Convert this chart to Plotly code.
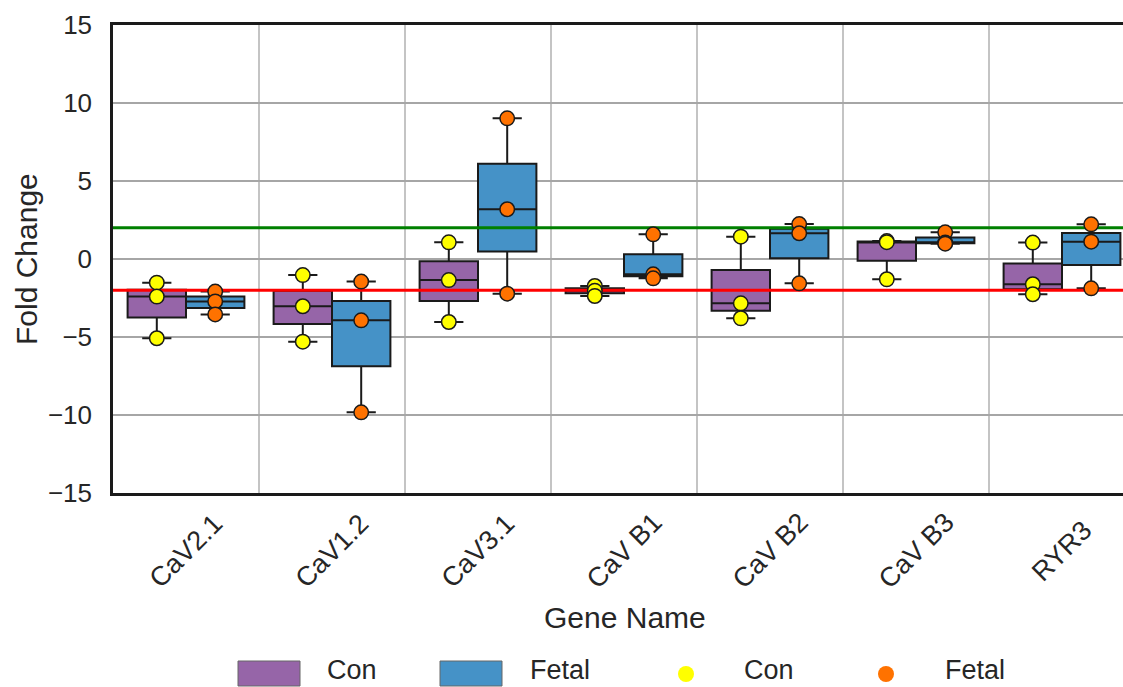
import plotly.graph_objects as go

# ---- data ----
genes = ["CaV2.1", "CaV1.2", "CaV3.1", "CaV B1", "CaV B2", "CaV B3", "RYR3"]
con_values = [
    [-1.52, -2.41, -5.08],
    [-1.03, -3.03, -5.30],
    [1.07, -1.35, -4.04],
    [-1.73, -2.03, -2.37],
    [1.43, -2.84, -3.80],
    [1.15, 1.08, -1.30],
    [1.05, -1.62, -2.26],
]
fetal_values = [
    [-2.09, -2.72, -3.55],
    [-1.45, -3.93, -9.83],
    [9.02, 3.19, -2.22],
    [1.58, -0.98, -1.24],
    [2.24, 1.65, -1.56],
    [1.71, 1.05, 0.98],
    [2.22, 1.11, -1.88],
]
upper_threshold = 2
lower_threshold = -2
y_ticks = [-15, -10, -5, 0, 5, 10, 15]

# ---- style ----
PURPLE = "#9665a8"
BLUE = "#4592c7"
YELLOW = "#ffff00"
ORANGE = "#ff7200"
FONT = "Liberation Sans, Arial, sans-serif"
W, H = 1123, 687
L, R, T, B = 113, 0, 25, 194
PW, PH = W - L - R, H - T - B
CAT_PX = 146.0
OFF = 0.2

def px_x(px):
    return (px - L) / PW

def px_y(py):
    return (H - B - py) / PH

fig = go.Figure()

for name, vals, color, off in [("Con", con_values, PURPLE, -OFF), ("Fetal", fetal_values, BLUE, OFF)]:
    xs, ys = [], []
    for i, v in enumerate(vals):
        xs += [i + off] * len(v)
        ys += v
    fig.add_trace(go.Box(
        x=xs, y=ys, name=name, width=0.4, boxpoints=False,
        quartilemethod="inclusive", fillcolor=color,
        line=dict(color="#1a1a1a", width=2), whiskerwidth=0.5,
        showlegend=False, hoverinfo="skip",
    ))

# threshold lines (drawn above boxes, below points)
xr = [-0.5, 6.5]
fig.add_trace(go.Scatter(x=xr, y=[upper_threshold] * 2, mode="lines",
                         line=dict(color="#008000", width=3), showlegend=False, hoverinfo="skip"))
fig.add_trace(go.Scatter(x=xr, y=[lower_threshold] * 2, mode="lines",
                         line=dict(color="#ff0000", width=3), showlegend=False, hoverinfo="skip"))

for name, vals, color, off in [("Con", con_values, YELLOW, -OFF), ("Fetal", fetal_values, ORANGE, OFF)]:
    xs, ys = [], []
    for i, v in enumerate(vals):
        xs += [i + off] * len(v)
        ys += v
    fig.add_trace(go.Scatter(
        x=xs, y=ys, mode="markers", name=name,
        marker=dict(color=color, size=14.5, line=dict(color="#1a1a1a", width=1.5)),
        showlegend=False,
    ))

x_max = -0.5 + PW / CAT_PX

fig.update_layout(
    width=W, height=H,
    margin=dict(l=L, r=R, t=T, b=B),
    plot_bgcolor="white", paper_bgcolor="white",
    font=dict(family=FONT, color="#262626"),
    xaxis=dict(
        range=[-0.5, x_max], showticklabels=False, showgrid=False, zeroline=False,
        showline=True, linecolor="#1a1a1a", linewidth=2.5, mirror=True,
        minor=dict(tickvals=[i + 0.5 for i in range(len(genes) - 1)], showgrid=True,
                   gridcolor="#c4c4c4", gridwidth=1.5, ticks=""),
    ),
    yaxis=dict(
        range=[-15, 15], tickvals=y_ticks, showgrid=True, gridcolor="#a6a6a6", gridwidth=2,
        zeroline=False, showline=True, linecolor="#1a1a1a", linewidth=2.5,
        tickfont=dict(size=26, color="#262626"), ticklabelstandoff=13,
    ),
)

annotations = []
for i, g in enumerate(genes):
    annotations.append(dict(
        x=i, xref="x", y=px_y(551), yref="paper", text=g, showarrow=False,
        textangle=-45, xanchor="center", yanchor="middle",
        font=dict(size=27, family=FONT, color="#262626"),
    ))
annotations.append(dict(x=px_x(625), y=px_y(617), xref="paper", yref="paper", text="Gene Name",
                        showarrow=False, xanchor="center", yanchor="middle",
                        font=dict(size=30, family=FONT, color="#262626")))
annotations.append(dict(x=px_x(26), y=px_y(259), xref="paper", yref="paper", text="Fold Change",
                        showarrow=False, textangle=-90, xanchor="center", yanchor="middle",
                        font=dict(size=30, family=FONT, color="#262626")))

# custom legend
shapes = []
legend_items = [
    ("rect", PURPLE, 238, "Con", 325),
    ("rect", BLUE, 440, "Fetal", 528),
    ("dot", YELLOW, 686, "Con", 742),
    ("dot", ORANGE, 886, "Fetal", 943),
]
for kind, color, x0, label, tx in legend_items:
    if kind == "rect":
        shapes.append(dict(type="rect", xref="paper", yref="paper",
                           x0=px_x(x0), x1=px_x(x0 + 62), y0=px_y(686), y1=px_y(661),
                           fillcolor=color, line=dict(color="#666666", width=1)))
    else:
        r = 8
        shapes.append(dict(type="circle", xref="paper", yref="paper",
                           x0=px_x(x0 - r), x1=px_x(x0 + r), y0=px_y(674 + r), y1=px_y(674 - r),
                           fillcolor=color, line=dict(width=0)))
    annotations.append(dict(x=px_x(tx), y=px_y(670), xref="paper", yref="paper", text=label,
                            showarrow=False, xanchor="left", yanchor="middle",
                            font=dict(size=27, family=FONT, color="#262626")))

fig.update_layout(annotations=annotations, shapes=shapes)
fig.write_html("out.html")
